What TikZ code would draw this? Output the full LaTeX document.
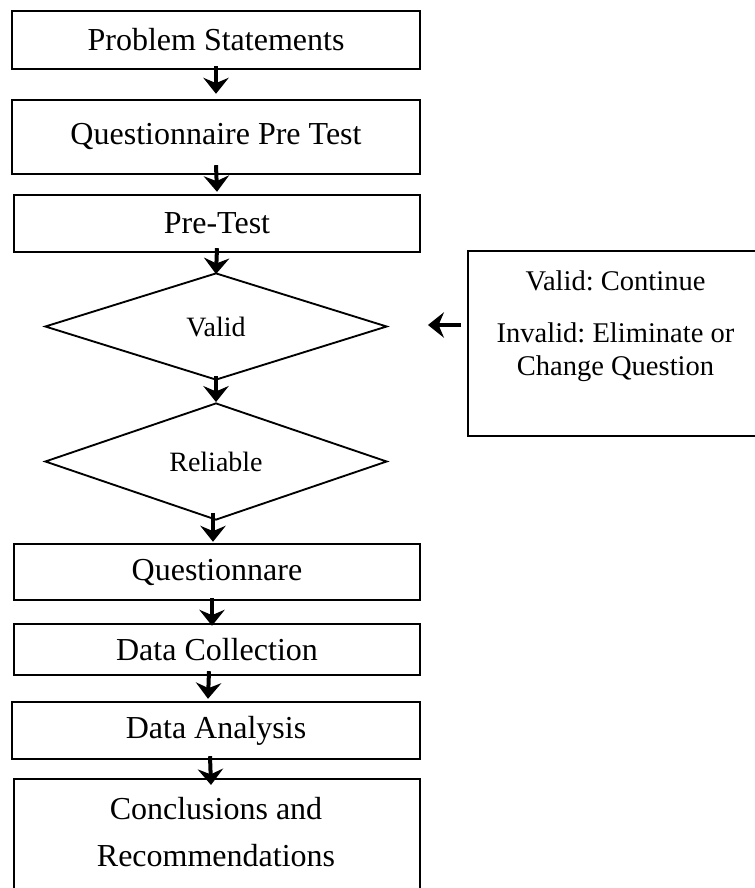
\documentclass[tikz,border=0pt]{standalone}
\usepackage{fontspec}
\setmainfont{Liberation Serif}
\frenchspacing
\usetikzlibrary{arrows.meta,shapes.geometric,calc}
\begin{document}
\begin{tikzpicture}[x=0.75pt,y=-0.75pt,
  box/.style={draw, line width=1.8pt, inner sep=0pt, font=\fontsize{24}{28}\selectfont},
  dia/.style={draw, diamond, line width=1.4pt, inner sep=0pt, font=\fontsize{21}{25}\selectfont},
  txt/.style={inner sep=0pt, align=center},
  arr/.style={line width=3pt, -{Stealth[length=12pt,width=19pt,inset=4pt]}}]
\useasboundingbox (0,0) rectangle (755,888);
\clip (0,0) rectangle (755,888);
\node[box, minimum width=408*0.75pt, minimum height=58*0.75pt] (b1) at (216,40) {Problem Statements};
\node[box, minimum width=408*0.75pt, minimum height=74*0.75pt] (b2) at (216,137) {Questionnaire Pre Test};
\node[box, minimum width=406*0.75pt, minimum height=57*0.75pt] (b3) at (217,223.5) {Pre-Test};
\node[dia, minimum width=342*0.75pt, minimum height=107*0.75pt] (val) at (216,326.5) {Valid};
\node[dia, minimum width=342*0.75pt, minimum height=117*0.75pt] (rel) at (216,461.5) {Reliable};
\node[box, minimum width=406*0.75pt, minimum height=56*0.75pt] (b4) at (217,572) {Questionnare};
\node[box, minimum width=406*0.75pt, minimum height=51*0.75pt] (b5) at (217,649.5) {Data Collection};
\node[box, minimum width=408*0.75pt, minimum height=57*0.75pt] (b6) at (216,730.5) {Data Analysis};
\node[box, minimum width=406*0.75pt, minimum height=130*0.75pt, anchor=north] (b7) at (217,778) {};
\node[txt, font=\fontsize{24}{35.25}\selectfont] (b7t) at (216,832) {Conclusions and\\Recommendations};
\node[box, minimum width=295*0.75pt, minimum height=185*0.75pt] (fb) at (615.5,343.5) {};
\node[txt, font=\fontsize{21.4}{24.75}\selectfont, anchor=base] (fbt) at (615.5,375) {Valid: Continue\\[14.25pt]Invalid: Eliminate or\\Change Question};
\draw[arr] ($(b1.south)+(0,-4)$) -- ($(b2.north)+(0,-5)$);
\draw[arr] ($(b2.south)+(0,-10)$) -- ($(b3.north)+(0,-2)$);
\draw[arr] ($(b3.south)+(0,-5)$) -- ($(val.north)+(0,2)$);
\draw[arr] ($(val.south)+(0,-5)$) -- ($(rel.north)+(0,0)$);
\draw[arr] ($(rel.south)+(-3,-8)$) -- ($(b4.north)+(-4,-1)$);
\draw[arr] ($(b4.south)+(-5,-3)$) -- ($(b5.north)+(-5,3)$);
\draw[arr] ($(b5.south)+(-8,-5)$) -- ($(b6.north)+(-8,-2)$);
\draw[arr] ($(b6.south)+(-6,-4)$) -- ($(b7.north)+(-6,7)$);
\draw[arr] ($(fb.west |- val.east)+(-6,-1.5)$) -- ($(val.east)+(40,-1.5)$);
\end{tikzpicture}
\end{document}
